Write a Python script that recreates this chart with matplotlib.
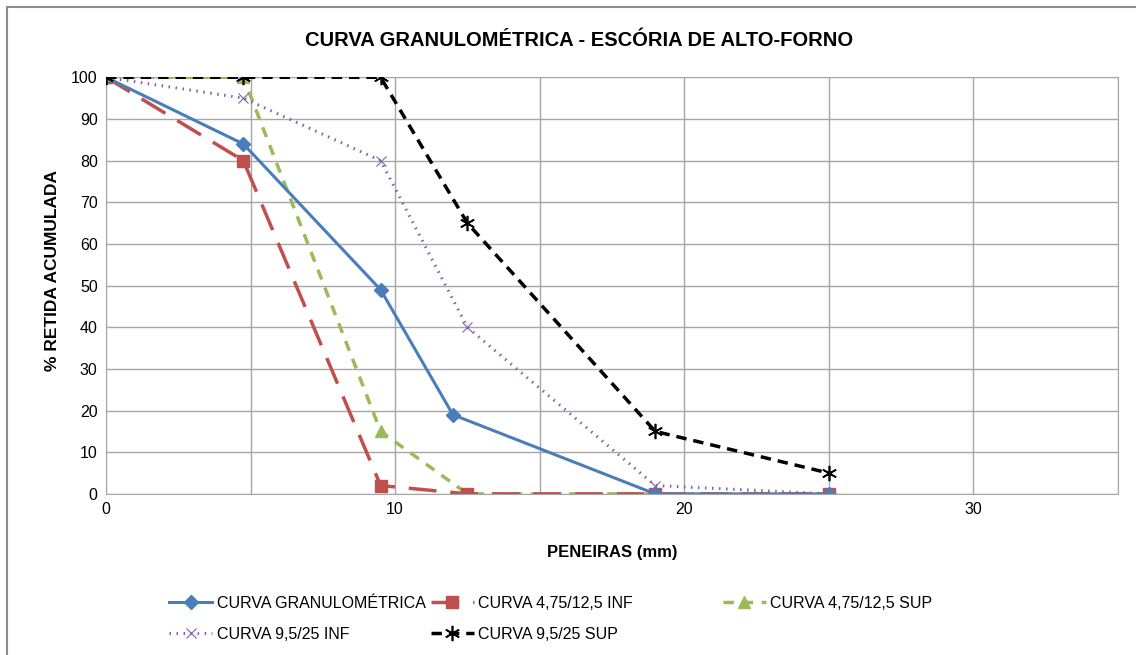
import matplotlib.pyplot as plt
from matplotlib.patches import Rectangle
from matplotlib.ticker import MultipleLocator

plt.rcParams['font.family'] = ['Liberation Sans', 'DejaVu Sans']

# sieve openings (mm) and cumulative retained (%)
x_gran = [0, 4.75, 9.5, 12.0, 19, 25]
y_gran = [100, 84, 49, 19, 0, 0]
x_lim = [0, 4.75, 9.5, 12.5, 19, 25]
y_475_inf = [100, 80, 2, 0, 0, 0]
y_475_sup = [100, 100, 15, 0, 0, 0]
y_95_inf = [100, 95, 80, 40, 2, 0]
y_95_sup = [100, 100, 100, 65, 15, 5]

fig = plt.figure(figsize=(11.36, 6.55), dpi=100)
ax = fig.add_axes([0.0933, 0.246, 0.8907, 0.636])

# outer chart border (right/bottom edges fall outside the picture)
fig.patches.append(Rectangle((7 / 1136, -0.05), 1.2, 1 - 7 / 655 + 0.05,
                             transform=fig.transFigure, fill=False,
                             edgecolor='#8c8c8c', linewidth=1.5))

l1, = ax.plot(x_gran, y_gran, color='#4a7ebb', linewidth=2.2, marker='D',
              markersize=7, label='CURVA GRANULOMÉTRICA')
l5, = ax.plot(x_lim, y_95_sup, color='black', linewidth=2.5, linestyle=(0, (3, 2)),
              marker=(6, 2, 0), markersize=11, markeredgewidth=1.2,
              label='CURVA 9,5/25 SUP')
l4, = ax.plot(x_lim, y_95_inf, color='#8064a2', linewidth=2.2, linestyle=(0, (0.5, 1.8)),
              marker='x', markersize=7, markeredgewidth=0.8, label='CURVA 9,5/25 INF')
l3, = ax.plot(x_lim, y_475_sup, color='#9bbb59', linewidth=2.5, linestyle=(0, (3, 2.5)),
              marker='^', markersize=8, label='CURVA 4,75/12,5 SUP')
l2, = ax.plot(x_lim, y_475_inf, color='#c0504d', linewidth=2.5, linestyle=(0, (8, 4)),
              marker='s', markersize=8, label='CURVA 4,75/12,5 INF')
for ln in (l3, l2):
    ln.set_zorder(ln.get_zorder() - 0.5)
l5.set_zorder(3)

ax.set_xlim(0, 35)
ax.set_ylim(0, 100)
ax.xaxis.set_major_locator(MultipleLocator(10))
ax.xaxis.set_minor_locator(MultipleLocator(5))
ax.yaxis.set_major_locator(MultipleLocator(10))
ax.grid(which='both', color='#a6a6a6', linewidth=1)
ax.set_axisbelow(True)
ax.tick_params(which='both', length=0, labelsize=11.5, pad=6)
for side in ax.spines:
    ax.spines[side].set_color('#a6a6a6')

fig.text(579 / 1136, 1 - 40 / 655, 'CURVA GRANULOMÉTRICA - ESCÓRIA DE ALTO-FORNO',
         fontsize=14.5, fontweight='bold', ha='center', va='center')
ax.set_xlabel('PENEIRAS (mm)', fontsize=12, fontweight='bold', labelpad=20)
ax.set_ylabel('% RETIDA ACUMULADA', fontsize=12.5, fontweight='bold')
ax.yaxis.set_label_coords(-0.0455, 0.537)

leg_kw = dict(frameon=False, fontsize=11.5, handlelength=2.7, handletextpad=0.3,
              labelspacing=1.0, borderpad=0, loc='upper left')
leg1 = fig.legend(handles=[l1, l4, l2, l5], ncol=2, columnspacing=0.3,
                  bbox_to_anchor=(0.1417, 0.1023), **leg_kw)
fig.legend(handles=[l3], bbox_to_anchor=(0.629, 0.1023), **leg_kw)

fig.savefig('out.png', dpi=100)
